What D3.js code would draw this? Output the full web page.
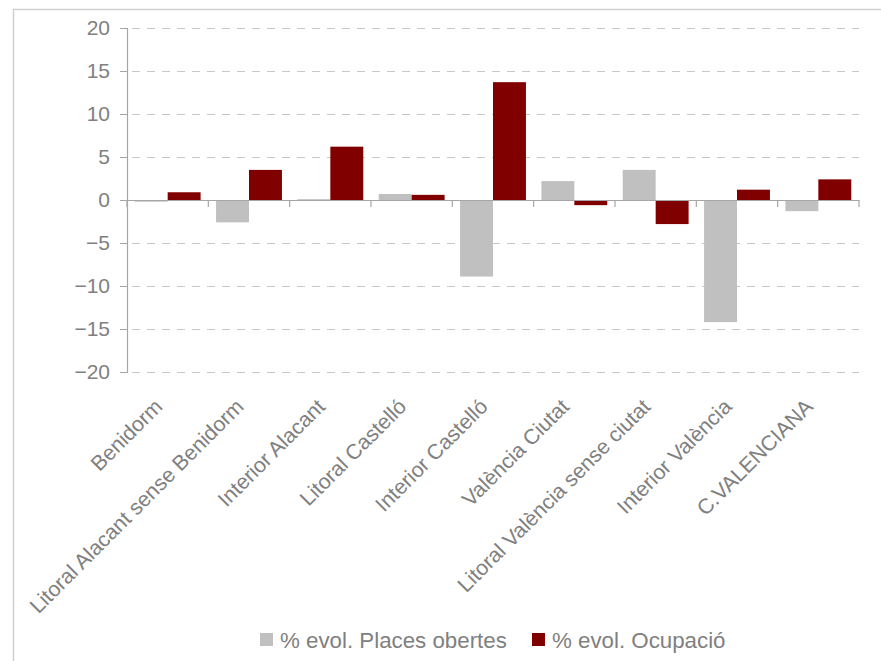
<!DOCTYPE html>
<html><head><meta charset="utf-8">
<script src="https://cdn.jsdelivr.net/npm/d3@7/dist/d3.min.js"></script>
<style>
html,body{margin:0;padding:0;background:#fff;}
svg{display:block;font-family:"Liberation Sans",Arial,sans-serif;}
</style></head>
<body>
<svg id="chart" width="881" height="661"></svg>
<script>
const categories = ["Benidorm","Litoral Alacant sense Benidorm","Interior Alacant","Litoral Castelló","Interior Castelló","València Ciutat","Litoral València sense ciutat","Interior València","C.VALENCIANA"];
const seriesNames = ["% evol. Places obertes","% evol. Ocupació"];
const placesObertes = [-0.2,-2.6,0.1,0.7,-8.9,2.2,3.5,-14.2,-1.3];
const ocupacio = [0.9,3.5,6.2,0.6,13.7,-0.6,-2.8,1.2,2.4];
const yTicks = [-20,-15,-10,-5,0,5,10,15,20];
const colors = ["#c0c0c0","#800000"];

const svg = d3.select("#chart");
const L = 127, R = 859, T = 28, B = 372;
const textColor = "#808080";

// outer border
svg.append("rect").attr("x",13.5).attr("y",9.5).attr("width",900).attr("height",700)
  .attr("fill","none").attr("stroke","#d0d0d0").attr("stroke-width",1.5);

const y = d3.scaleLinear().domain([-20,20]).range([B,T]);
const x0 = d3.scaleBand().domain(categories).range([L,R]).paddingInner(0.19).paddingOuter(0.095);
const xb = d3.scaleBand().domain(categories).range([L,R]);
const x1 = d3.scaleBand().domain(seriesNames).range([0,x0.bandwidth()]);

// gridlines
svg.append("g").selectAll("line").data(yTicks.filter(d=>d!==0)).join("line")
  .attr("x1",L+1).attr("x2",R).attr("y1",d=>Math.round(y(d))+0.5).attr("y2",d=>Math.round(y(d))+0.5)
  .attr("stroke","#c8c8c8").attr("stroke-width",1.2).attr("stroke-dasharray","8,7").attr("stroke-dashoffset",-4);

// bars
const data = categories.map((c,i)=>({c, vals:[placesObertes[i], ocupacio[i]]}));
const g = svg.append("g").selectAll("g").data(data).join("g")
  .attr("transform",d=>`translate(${x0(d.c)},0)`);
g.selectAll("rect").data(d=>d.vals.map((v,j)=>({v,s:seriesNames[j],j}))).join("rect")
  .attr("x",d=>x1(d.s)).attr("width",x1.bandwidth())
  .attr("y",d=>y(Math.max(0,d.v))).attr("height",d=>Math.abs(y(d.v)-y(0)))
  .attr("fill",d=>colors[d.j]);

// y axis
const yAxis = svg.append("g").attr("transform",`translate(${L},0)`)
  .call(d3.axisLeft(y).tickValues(yTicks).tickSize(7).tickPadding(10));
yAxis.select(".domain").attr("stroke","#a6a6a6").attr("stroke-width",1.2);
yAxis.selectAll(".tick line").attr("stroke","#a6a6a6");
yAxis.selectAll("text").attr("fill",textColor).attr("font-size","21px")
  .attr("font-family","'Liberation Sans',Arial,sans-serif");

// zero line with category ticks
const zx = svg.append("g").attr("transform",`translate(0,${y(0)})`)
  .call(d3.axisBottom(xb).tickSize(0).tickFormat(""));
zx.select(".domain").attr("stroke","#a6a6a6").attr("stroke-width",1.2);
zx.selectAll(".tick").remove();
const bounds = categories.map(c=>xb(c)).concat([R]);
svg.append("g").selectAll("line").data(bounds).join("line")
  .attr("x1",d=>d).attr("x2",d=>d).attr("y1",y(0)).attr("y2",y(0)+7)
  .attr("stroke","#a6a6a6").attr("stroke-width",1.2);

// category labels
svg.append("g").selectAll("text").data(categories).join("text")
  .attr("transform",d=>`translate(${x0(d)+x0.bandwidth()/2-4},408) rotate(-45)`)
  .attr("text-anchor","end").attr("fill",textColor).attr("font-size","21.2px")
  .text(d=>d);

// legend
const leg = svg.append("g");
const legX = [260,532];
seriesNames.forEach((s,i)=>{
  leg.append("rect").attr("x",legX[i]).attr("y",633).attr("width",13).attr("height",13).attr("fill",colors[i]);
  leg.append("text").attr("x",legX[i]+20).attr("y",648).attr("fill",textColor)
    .attr("font-size","22.3px").text(s);
});
</script>
</body></html>
